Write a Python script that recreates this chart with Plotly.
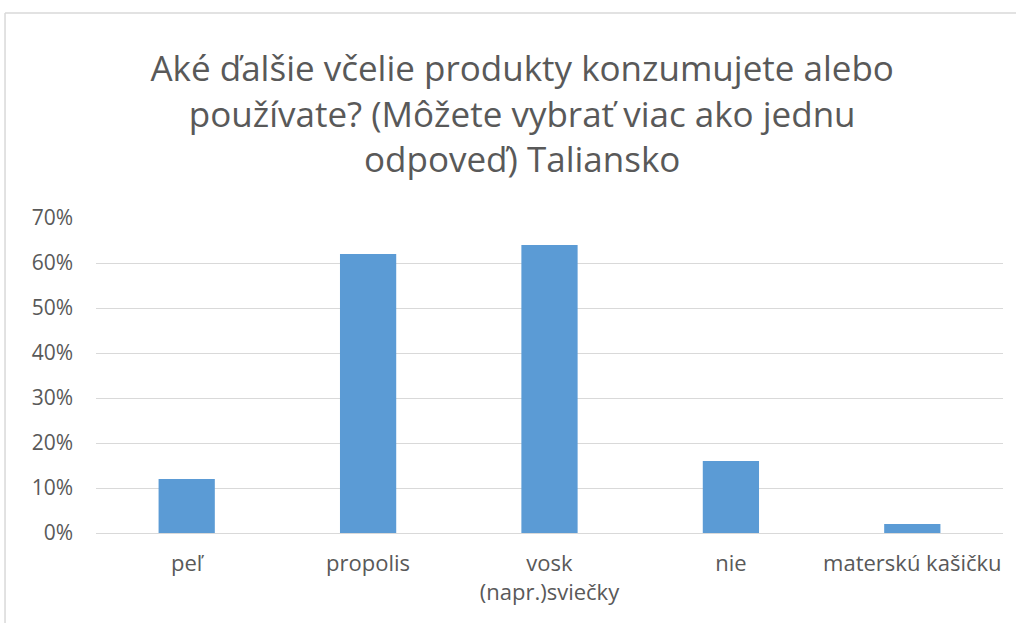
import plotly.graph_objects as go

categories = ["peľ", "propolis", "vosk<br>(napr.)sviečky", "nie", "materskú kašičku"]
values = [0.12, 0.62, 0.64, 0.16, 0.02]
tick_vals = [0, 0.1, 0.2, 0.3, 0.4, 0.5, 0.6, 0.7]
tick_text = ["0%", "10%", "20%", "30%", "40%", "50%", "60%", "70%"]
title_text = "Aké ďalšie včelie produkty konzumujete alebo<br>používate? (Môžete vybrať viac ako jednu<br>odpoveď) Taliansko"

FONT = "Open Sans"
TXT = "#595959"

fig = go.Figure(
    go.Bar(x=categories, y=values, marker=dict(color="#5b9bd5", line=dict(width=0)))
)

fig.update_layout(
    width=1016,
    height=623,
    margin=dict(l=96, r=13, t=218, b=90),
    paper_bgcolor="white",
    plot_bgcolor="white",
    bargap=0.69,
    showlegend=False,
    title=dict(
        text=title_text,
        x=0.514,
        xanchor="center",
        y=1 - 81 / 623,
        yanchor="middle",
        yref="container",
        font=dict(family=FONT, size=35, color=TXT),
    ),
    font=dict(family=FONT, size=22, color=TXT),
    shapes=[
        dict(type="line", xref="paper", yref="paper", x0=-0.1003, x1=1.02, y0=1.651, y1=1.651,
             line=dict(color="#d9d9d9", width=1.5)),
        dict(type="line", xref="paper", yref="paper", x0=-0.1003, x1=-0.1003, y0=1.651, y1=-0.3,
             line=dict(color="#d9d9d9", width=1.5)),
    ],
)

fig.update_yaxes(
    range=[0, 0.7],
    tickvals=tick_vals,
    ticktext=tick_text,
    showgrid=True,
    gridcolor="#d9d9d9",
    gridwidth=1.3,
    zeroline=True,
    zerolinecolor="#d9d9d9",
    zerolinewidth=1.3,
    showline=False,
    ticks="",
    ticklabelstandoff=22,
    tickfont=dict(family=FONT, size=21, color=TXT),
)
fig.update_xaxes(
    showgrid=False,
    showline=False,
    ticks="",
    ticklabelstandoff=15,
    tickfont=dict(family=FONT, size=22, color=TXT),
)

fig.write_html(
    "out.html",
    config={"displayModeBar": False},
    post_script="document.body.style.margin='0';",
)
